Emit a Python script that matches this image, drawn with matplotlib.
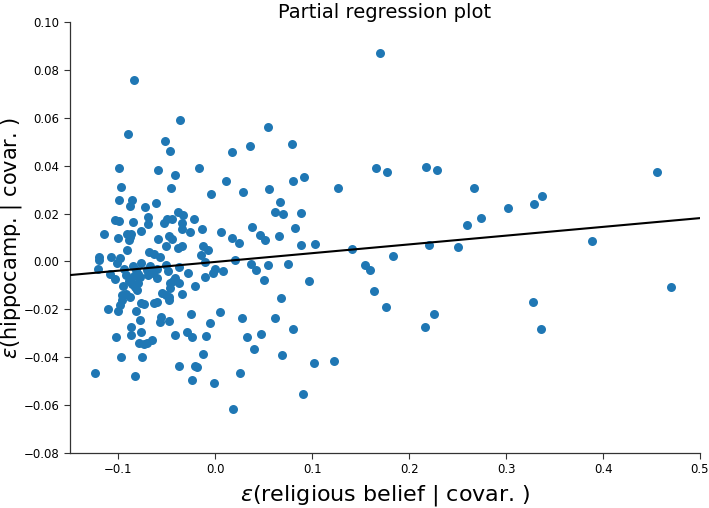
import matplotlib
matplotlib.use("Agg")
import matplotlib.pyplot as plt
import numpy as np

# residualised predictor (x) and outcome (y) values
x_vals = [
 0.1698,-0.0840,-0.0362,-0.0905,-0.0520,-0.0468,0.0171,-0.0998,-0.0589,-0.0417,
 -0.0166,0.0106,0.0540,0.0357,0.0793,0.0804,0.0911,0.1660,0.1771,0.2170,
 0.2286,0.2671,0.4556,0.3019,0.3284,0.3367,0.2744,0.2593,0.2201,0.2500,
 0.3889,0.1832,0.4698,0.1760,0.3277,0.2252,0.2163,0.3359,0.0285,0.0553,
 0.1262,0.0667,0.0618,0.0697,0.0883,0.0375,0.0818,0.0061,0.0171,0.0244,
 0.0457,0.0515,0.0659,0.0880,0.1025,0.1409,0.0205,0.0075,0.0367,0.0422,
 0.0546,0.0746,0.0501,0.0969,0.1547,0.1595,0.0677,0.1633,0.0051,0.0278,
 0.0615,0.0329,0.0467,0.0804,0.0401,0.0684,0.1014,0.1224,0.0257,0.0901,
 0.0182,-0.1108,-0.1005,-0.0822,-0.0771,-0.0737,-0.0630,-0.0606,-0.0482,-0.0255,
 -0.0564,-0.0569,-0.0479,-0.0775,-0.0871,-0.1026,-0.0868,-0.0771,-0.0785,-0.0734,
 -0.0703,-0.0654,-0.0417,-0.0293,-0.0245,-0.0097,-0.0059,-0.0971,-0.0754,-0.0372,
 -0.0214,-0.0187,-0.0131,-0.1245,-0.0830,-0.0238,-0.0014,-0.0971,-0.0458,-0.0045,
 -0.0992,-0.0861,-0.0881,-0.0729,-0.0616,-0.1033,-0.0998,-0.0850,-0.0699,-0.0699,
 -0.0383,-0.0334,-0.0224,-0.0499,-0.0451,-0.0533,-0.0342,-0.0345,-0.1153,-0.1008,
 -0.0912,-0.0871,-0.0895,-0.0765,-0.0589,-0.0479,-0.0445,-0.0262,-0.0135,-0.0513,
 -0.0389,-0.0342,-0.0131,-0.0076,-0.0915,-0.0682,-0.0630,-0.0572,-0.0152,-0.0104,
 -0.1204,-0.1201,-0.1080,-0.0981,-0.1015,-0.1211,-0.1088,-0.1036,-0.0943,-0.0919,
 -0.0706,-0.0606,-0.0606,-0.0510,-0.0489,-0.0379,-0.0280,-0.0110,-0.0025,-0.0007,
 -0.0957,-0.0472,-0.0437,-0.0417,-0.0376,-0.0210,-0.0468,-0.0926,-0.0878,-0.0964,
 -0.0984,-0.0551,-0.0510,-0.0479,-0.0348,-0.0845,-0.0768,-0.0675,-0.0822,-0.0799,
 -0.0837,-0.0775,-0.0692,-0.0641,-0.0891,-0.0861,-0.0830,-0.0796,-0.0809,-0.0959,
 -0.0886,
]
y_vals = [
 0.0872,0.0756,0.0592,0.0532,0.0503,0.0462,0.0456,0.0389,0.0382,0.0361,
 0.0390,0.0337,0.0560,0.0482,0.0490,0.0337,0.0351,0.0391,0.0375,0.0394,
 0.0380,0.0307,0.0375,0.0224,0.0238,0.0273,0.0181,0.0153,0.0068,0.0060,
 0.0085,0.0023,-0.0106,-0.0189,-0.0171,-0.0221,-0.0275,-0.0281,0.0291,0.0302,
 0.0307,0.0249,0.0206,0.0198,0.0203,0.0145,0.0138,0.0123,0.0099,0.0077,
 0.0109,0.0088,0.0105,0.0067,0.0073,0.0052,0.0005,-0.0040,-0.0012,-0.0036,
 -0.0016,-0.0011,-0.0079,-0.0081,-0.0014,-0.0037,-0.0152,-0.0125,-0.0211,-0.0236,
 -0.0236,-0.0314,-0.0304,-0.0284,-0.0365,-0.0390,-0.0423,-0.0416,-0.0467,-0.0554,
 -0.0618,-0.0200,-0.0206,-0.0206,-0.0175,-0.0179,-0.0175,-0.0168,-0.0161,-0.0221,
 -0.0231,-0.0254,-0.0249,-0.0243,-0.0275,-0.0314,-0.0309,-0.0295,-0.0341,-0.0344,
 -0.0341,-0.0328,-0.0306,-0.0295,-0.0314,-0.0313,-0.0259,-0.0398,-0.0398,-0.0436,
 -0.0436,-0.0440,-0.0388,-0.0465,-0.0477,-0.0495,-0.0509,0.0311,0.0307,0.0283,
 0.0256,0.0255,0.0230,0.0227,0.0244,0.0172,0.0170,0.0165,0.0184,0.0155,
 0.0205,0.0195,0.0178,0.0177,0.0177,0.0159,0.0159,0.0135,0.0114,0.0096,
 0.0114,0.0116,0.0088,0.0128,0.0095,0.0106,0.0094,0.0123,0.0135,0.0066,
 0.0056,0.0064,0.0064,0.0046,0.0048,0.0041,0.0030,0.0020,0.0027,-0.0001,
 0.0020,0.0006,0.0017,0.0015,-0.0008,-0.0032,-0.0053,-0.0074,-0.0033,-0.0057,
 -0.0037,-0.0030,-0.0071,-0.0013,-0.0038,-0.0022,-0.0047,-0.0064,-0.0050,-0.0032,
 -0.0103,-0.0091,-0.0082,-0.0071,-0.0089,-0.0103,-0.0112,-0.0136,-0.0147,-0.0161,
 -0.0182,-0.0133,-0.0140,-0.0147,-0.0137,-0.0017,-0.0008,-0.0019,-0.0036,-0.0053,
 -0.0059,-0.0065,-0.0057,-0.0050,-0.0081,-0.0094,-0.0108,-0.0091,-0.0119,-0.0142,
 0.0102,
]

# fitted regression line
fit_intercept = -0.0002
fit_slope = 0.0366

x_ticks = [-0.1, 0.0, 0.1, 0.2, 0.3, 0.4, 0.5]
y_ticks = [-0.08, -0.06, -0.04, -0.02, 0.00, 0.02, 0.04, 0.06, 0.08, 0.10]
x_lim = (-0.15, 0.5)
y_lim = (-0.08, 0.10)

fig = plt.figure(figsize=(7.09, 5.08), dpi=100)
ax = fig.add_axes([70/709, 55/508, 630/709, 431/508])

ax.scatter(x_vals, y_vals, s=42, color="#1f77b4", zorder=2, linewidths=0)
xl = np.array(x_lim)
ax.plot(xl, fit_intercept + fit_slope * xl, color="black", lw=1.5, zorder=3)

ax.set_xlim(*x_lim)
ax.set_ylim(*y_lim)
ax.set_xticks(x_ticks)
ax.set_xticklabels([f"{t:.1f}".replace("-", "\u2212") for t in x_ticks])
ax.set_yticks(y_ticks)
ax.set_yticklabels([f"{t:.2f}".replace("-", "\u2212") for t in y_ticks])
ax.tick_params(labelsize=8.5, length=4, width=0.8, colors="#333333", labelcolor="black")

for side in ["top", "right"]:
    ax.spines[side].set_visible(False)
for side in ["left", "bottom"]:
    ax.spines[side].set_color("#333333")
    ax.spines[side].set_linewidth(0.9)

ax.set_title("Partial regression plot", fontsize=14, pad=3)
ax.set_xlabel(r"$\epsilon$(religious belief | covar. )", fontsize=16, labelpad=5)
ax.set_ylabel(r"$\epsilon$(hippocamp. | covar. )", fontsize=15)
ax.yaxis.set_label_coords(-0.073, 0.5)

fig.savefig("out.png", dpi=100)
